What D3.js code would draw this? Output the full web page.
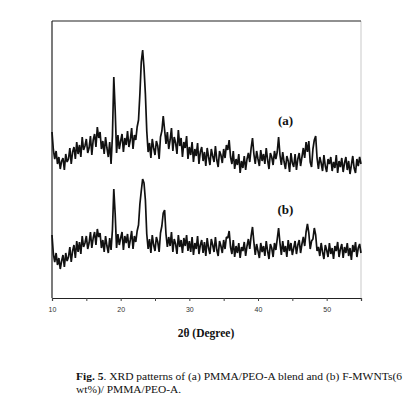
<!DOCTYPE html>
<html><head><meta charset="utf-8">
<script src="https://cdn.jsdelivr.net/npm/d3@7"></script>
<style>body{margin:0;background:#fff}svg{display:block}</style>
</head><body>
<script>
// 2θ grid: 10° to 55° in 0.2° steps
const thetaStart = 10, thetaStep = 0.2;
// (a) PMMA/PEO-A blend, intensity (a.u.)
const seriesA = [
166,148,139,147,134, 141,129,137,140,128, 144,136,139,150,134, 146,151,139,156,144,
153,141,161,148,152, 159,145,150,162,143, 158,164,151,171,160, 166,149,157,144,161,
150,141,156,134,162, 221,188,145,163,149, 157,164,146,160,153, 167,151,158,170,149,
163,158,171,178,204, 236,248,230,204,167, 146,155,140,159,150, 143,157,152,139,161,
167,182,168,154,166, 149,158,170,147,161, 155,144,168,152,160, 141,156,150,162,139,
151,143,156,136,149, 142,155,134,146,151, 137,146,132,150,141, 133,149,142,136,152,
138,131,147,143,135, 149,140,153,148,158, 141,134,147,129,139, 133,144,125,137,130,
142,128,139,145,136, 150,160,144,134,147, 139,132,148,137,144, 134,150,138,129,145,
141,133,147,139,146, 161,143,133,146,136, 129,142,137,126,145, 135,131,144,128,139,
145,132,141,150,140, 156,146,157,136,131, 149,158,162,140,129, 141,135,127,143,132,
126,139,134,141,127, 136,130,143,125,137, 131,140,126,135,141, 128,137,124,133,142,
130,125,139,132,141, 134];
// (b) F-MWNTs(6 wt%)/PMMA/PEO-A, intensity (a.u.)
const seriesB = [
63,44,36,45,33, 40,29,37,43,31, 45,37,41,51,36, 47,53,40,57,46,
56,44,62,51,55, 62,49,55,66,50, 60,66,53,69,61, 65,50,58,46,62,
52,45,60,48,68, 109,84,50,64,53, 60,66,48,62,55, 64,50,58,67,49,
62,56,67,73,94, 107,119,115,98,64, 49,59,45,63,53, 47,61,56,46,65,
72,85,88,64,51, 61,52,66,46,59, 54,44,63,51,58, 45,60,52,63,47,
57,46,61,43,55, 49,62,44,53,58, 45,56,42,60,50, 44,59,53,46,61,
48,42,57,52,45, 58,49,61,60,67, 51,44,58,41,52, 45,55,40,51,47,
56,42,52,59,49, 62,71,56,43,54, 47,40,55,46,52, 42,57,47,39,54,
50,41,55,48,59, 70,55,43,57,46, 52,41,58,47,55, 43,50,57,44,53,
58,45,54,61,52, 66,74,65,49,57, 59,70,63,47,51, 42,55,46,39,53,
48,41,55,44,50, 39,52,47,56,41, 49,54,40,51,45, 55,42,50,38,53,
46,56,41,50,54, 45];
const seriesLabels = ["(a)", "(b)"];
const labelPos = [[44.0, 173], [44.0, 84]];
const xTicks = [10, 15, 20, 25, 30, 35, 40, 45, 50, 55];
const xTickLabels = [10, 20, 30, 40, 50];
const xTitle = "2θ (Degree)";
const captionBold = "Fig. 5";
const captionLine1 = ". XRD patterns of (a) PMMA/PEO-A blend and (b) F-MWNTs(6";
const captionLine2 = "wt%)/ PMMA/PEO-A.";

const W = 407, H = 398;
const svg = d3.select("body").append("svg").attr("width", W).attr("height", H);
svg.append("rect").attr("width", W).attr("height", H).attr("fill", "#fff");

const x = d3.scaleLinear().domain([10, 55]).range([52, 361]);
const y = d3.scaleLinear().domain([0, 277]).range([298, 21]);

const mk = arr => arr.map((v, i) => [thetaStart + i * thetaStep, v]);
const line = d3.line().x(d => x(d[0])).y(d => y(d[1]));

// frame
svg.append("line").attr("x1", 361).attr("x2", 361).attr("y1", 21).attr("y2", 298)
  .attr("stroke", "#e4e4e4").attr("stroke-width", 2);
svg.append("line").attr("x1", 52).attr("x2", 361).attr("y1", 21).attr("y2", 21)
  .attr("stroke", "#222").attr("stroke-width", 1.2);
svg.append("line").attr("x1", 52).attr("x2", 52).attr("y1", 21).attr("y2", 298)
  .attr("stroke", "#222").attr("stroke-width", 1.2);

[seriesA, seriesB].forEach(s => {
  svg.append("path").datum(mk(s)).attr("d", line)
    .attr("fill", "none").attr("stroke", "#111").attr("stroke-width", 1.7)
    .attr("stroke-linejoin", "bevel");
});

seriesLabels.forEach((t, i) => {
  svg.append("text").attr("x", x(labelPos[i][0])).attr("y", y(labelPos[i][1]))
    .attr("text-anchor", "middle").attr("font-family", "Liberation Serif, serif")
    .attr("font-weight", "bold").attr("font-size", 13).attr("fill", "#111").text(t);
});

// x axis
const ax = svg.append("g").attr("transform", "translate(0,298)")
  .call(d3.axisBottom(x).tickValues(xTicks).tickSizeOuter(0).tickSize(3)
    .tickFormat(d => xTickLabels.includes(d) ? d : ""));
ax.select(".domain").attr("stroke", "#222").attr("stroke-width", 1.2);
ax.selectAll(".tick line").attr("stroke", "#444");
ax.selectAll(".tick text").attr("font-family", "Liberation Sans, Arial, sans-serif")
  .attr("font-size", 7).attr("fill", "#333").attr("dy", "0.71em").attr("y", 9);

svg.append("text").attr("x", 206).attr("y", 337).attr("text-anchor", "middle")
  .attr("font-family", "Liberation Serif, serif").attr("font-weight", "bold")
  .attr("font-size", 11.5).attr("fill", "#111").text(xTitle);

const cap = svg.append("text").attr("x", 76).attr("y", 380)
  .attr("font-family", "Liberation Serif, serif").attr("font-size", 11.4).attr("fill", "#111")
  .attr("textLength", 326).attr("lengthAdjust", "spacingAndGlyphs");
cap.append("tspan").attr("font-weight", "bold").text(captionBold);
cap.append("tspan").text(captionLine1);
svg.append("text").attr("x", 76).attr("y", 393)
  .attr("font-family", "Liberation Serif, serif").attr("font-size", 11.4).attr("fill", "#111")
  .text(captionLine2);
</script>
</body></html>
